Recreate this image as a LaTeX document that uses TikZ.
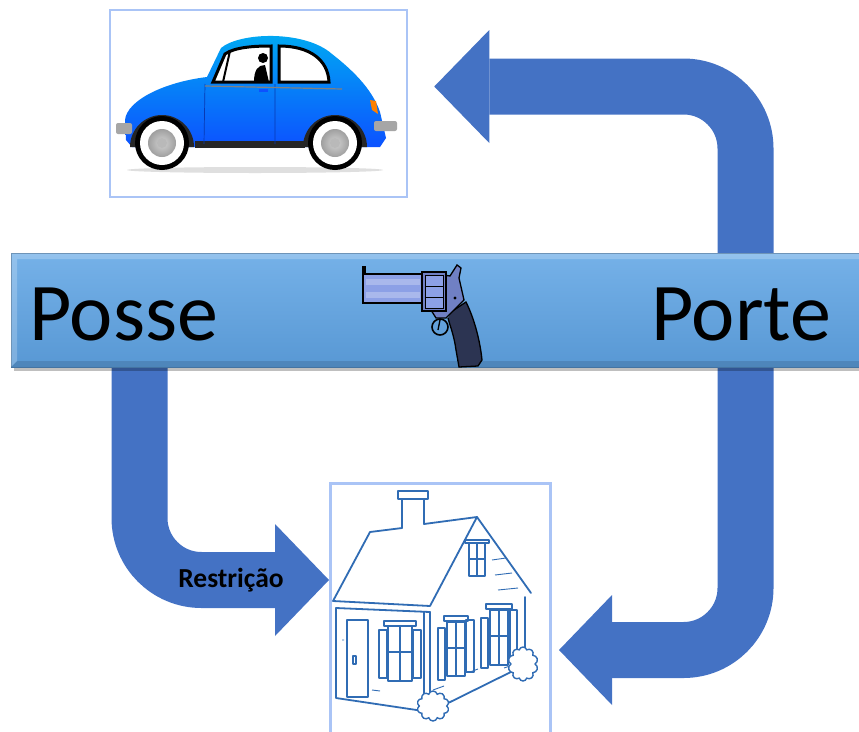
\documentclass[tikz,border=0pt]{standalone}
\usepackage{fontspec}
\setmainfont{Carlito}
\usetikzlibrary{arrows.meta, shapes.symbols, positioning}

\definecolor{arrowblue}{RGB}{68,114,196}
\definecolor{bartop}{RGB}{117,177,232}
\definecolor{barbot}{RGB}{88,152,212}
\definecolor{barline}{RGB}{70,118,165}
\definecolor{boxline}{RGB}{170,196,246}
\definecolor{houseblue}{RGB}{48,108,180}
\definecolor{cartop}{RGB}{0,172,242}
\definecolor{carbot}{RGB}{12,82,255}
\definecolor{gunbarrel}{RGB}{140,160,230}
\definecolor{gunframe}{RGB}{112,128,196}
\definecolor{gungrip}{RGB}{44,52,82}

\tikzstyle{picbox} = [rectangle, draw=boxline, line width=2.5pt, fill=white, inner sep=0pt]
\tikzstyle{banner} = [rectangle, draw=barline, line width=0.8pt, top color=bartop, bottom color=barbot, inner sep=0pt]
\tikzstyle{bigtext} = [inner sep=0pt, font=\fontsize{82}{92}\selectfont]
\tikzstyle{bigarrow} = [line width=56pt, draw=arrowblue, rounded corners=62pt]
\tikzstyle{housepen} = [draw=houseblue, line width=1.8pt, line join=round, line cap=round]
\tikzstyle{bush} = [cloud, cloud puffs=10, aspect=1, draw=houseblue, fill=white, line width=1.4pt]

\begin{document}
\begin{tikzpicture}[x=1pt,y=-1pt]
\useasboundingbox (0,0) rectangle (859,731);
\clip (0,0) rectangle (859,731);

% picture frames
\node (car) [picbox, minimum width=297pt, minimum height=187pt] at (258.5,103.5) {};
\node (house) [picbox, minimum width=220pt, minimum height=300pt, anchor=north west, line width=3pt] at (329,482) {};

% block arrows
\coordinate (possefoot) at (139.5,330);
\coordinate (rail) at (745.5,86.5);
\draw [bigarrow, -{Triangle[length=54pt,width=112pt,line width=0pt]}] (possefoot) |- ([yshift=-98pt]house.north west);
\draw [bigarrow, {Triangle[length=53pt,width=110pt,line width=0pt]}-{Triangle[length=55pt,width=113pt,line width=0pt]}]
  ([xshift=7pt,yshift=-168pt]house.north east) -| (rail) -- ([xshift=26pt,yshift=17pt]car.east);

% banner
\fill[black, opacity=0.25] (14,258) rectangle (862,371);
\node (bar) [banner, minimum width=860pt, minimum height=114pt, anchor=north west] at (11,253) {};
\fill[white, opacity=0.22] (11,253) -- (862,253) -- (862,259) -- (17,259) -- (17,361) -- (11,367) -- cycle;
\fill[black, opacity=0.12] (11,367) -- (862,367) -- (862,361) -- (17,361) -- cycle;
\node (posse) [bigtext, anchor=base west] at (29,340) {Posse};
\node (porte) [bigtext, anchor=base west] at (651,340) {Porte};

\node (restr) [font=\bfseries\fontsize{27.5}{30}\selectfont] at (231,580) {Restrição};

% revolver
\fill[gungrip] (451,312) -- (466,302) .. controls (474,318) and (480,340) .. (482,360) -- (478,366) -- (459,367) -- (456,350) .. controls (454,335) and (450,326) .. (448,318) -- cycle;
\draw[black, line width=1.3pt] (451,312) -- (466,302) .. controls (474,318) and (480,340) .. (482,360) -- (478,366) -- (459,367) -- (456,350) .. controls (454,335) and (450,326) .. (448,318);
\filldraw[fill=gunframe, draw=black, line width=1.3pt] (422,272) -- (450,276) -- (457,265) -- (461,268) -- (459,278) -- (464,300) -- (452,312) -- (446,318) -- (436,318) -- (431,310) -- (422,310) -- cycle;
\draw[black, line width=1.6pt] (440,327) circle (8);
\draw[black, line width=1.3pt] (440,320) -- (438,330);
\fill[black] (455,298) circle (1.6);
\filldraw[fill=gunbarrel, draw=black, line width=1.4pt] (363,274) rectangle (422,303);
\fill[gunbarrel!75!white] (366,279) rectangle (420,285);
\fill[gunbarrel!75!white] (366,292) rectangle (420,298);
\fill[black] (362,266) rectangle (366,274);
\filldraw[fill=gunframe, draw=black, line width=1.4pt] (422,272) rectangle (446,311);
\filldraw[fill=gunbarrel, draw=black, line width=0.8pt] (425,275) rectangle (443,308);
\draw[black, line width=1pt] (425,286) -- (443,286) (425,297) -- (443,297);

% car
\fill[gray!25] (255,170) ellipse [x radius=128, y radius=3];
\shade[top color=cartop, bottom color=carbot] (126,140) -- (125,120) .. controls (127,100) and (165,82) .. (207,77) -- (221,48) .. controls (240,32) and (305,30) .. (332,54) .. controls (350,68) and (372,88) .. (380,112) -- (386,138) -- (380,147) -- (132,147) -- cycle;
\fill[black!85] (195,141) rectangle (305,148);
\foreach \cx in {162,335} {
  \fill[black!85] (\cx-32,147) arc[start angle=180, end angle=360, radius=32] -- cycle;
  \fill[black] (\cx,143) circle (27);
  \fill[white] (\cx,143) circle (22);
  \shade[inner color=gray!35, outer color=gray!75] (\cx,143) circle (14);
  \fill[gray!55] (\cx,143) circle (5);
}
\filldraw[fill=white, draw=black, line width=3pt] (213,82) -- (225,54) .. controls (235,47) and (255,46) .. (271,46) -- (271,82) -- cycle;
\filldraw[fill=white, draw=black, line width=3pt] (279,46) .. controls (310,46) and (328,60) .. (329,82) -- (279,82) -- cycle;
\draw[black, line width=2pt] (230,51) -- (223,82);
\fill[black] (263,58) circle (5);
\fill[black] (254,82) .. controls (254,70) and (258,65) .. (265,65) -- (269,82) -- cycle;
\draw[carbot!70!black, line width=0.7pt] (205,84) -- (204,144) (275,84) -- (275,144);
\draw[gray, line width=1.2pt] (205,86) -- (342,89);
\fill[carbot] (259,89) rectangle (268,92);
\fill[gray!70, rounded corners=2pt] (116,123) rectangle (132,134);
\fill[gray!70, rounded corners=2pt] (374,121) rectangle (397,131);
\fill[orange] (370,100) -- (376,101) -- (378,114) -- (372,110) -- cycle;

% house
\draw[housepen] (398,491) rectangle (428,499);
\draw[housepen] (402,499) -- (402,528) (424,499) -- (424,524);
\draw[housepen] (402,528) -- (370,532) -- (333,601) -- (430,606) -- (477,517) -- (424,524);
\draw[housepen] (477,517) -- (531,593) (336,608) -- (430,612);
\draw[housepen] (336,608) -- (336,698) -- (430,712) -- (525,665) -- (525,597);
\draw[housepen] (430,612) -- (430,712) (424,612) -- (424,708);
\draw[housepen] (347,620) rectangle (368,697);
\draw[housepen, line width=1.2pt] (353,656) rectangle (356,664);
% windows
\draw[housepen] (379,630) rectangle (387,678) (413,630) rectangle (421,678);
\draw[housepen] (388,626) rectangle (412,681) (400,626) -- (400,681) (388,652) -- (412,652);
\draw[housepen] (384,621) rectangle (416,626);
\draw[housepen] (438,628) rectangle (445,680) (466,620) rectangle (474,672);
\draw[housepen] (447,622) rectangle (465,676) (456,622) -- (456,676) (447,648) -- (465,648);
\draw[housepen] (444,616) rectangle (468,621);
\draw[housepen] (481,618) rectangle (488,668) (510,610) rectangle (517,660);
\draw[housepen] (490,610) rectangle (508,665) (499,610) -- (499,665) (490,636) -- (508,636);
\draw[housepen] (486,604) rectangle (512,609);
\draw[housepen] (469,543) rectangle (485,576) (477,543) -- (477,576) (469,559) -- (485,559);
\draw[housepen] (465,540) rectangle (489,543);
% siding
\draw[houseblue, line width=0.9pt] (492,560) -- (506,558) (495,575) -- (512,573) (498,590) -- (518,588) (342,640) -- (344,640) (433,690) -- (444,686) (470,672) -- (478,669) (504,668) -- (516,664) (372,690) -- (380,691);
\node (bush1) [bush, minimum width=32pt, minimum height=30pt] at (433,706) {};
\node (bush2) [bush, minimum width=30pt, minimum height=34pt] at (523,664) {};
\end{tikzpicture}
\end{document}
